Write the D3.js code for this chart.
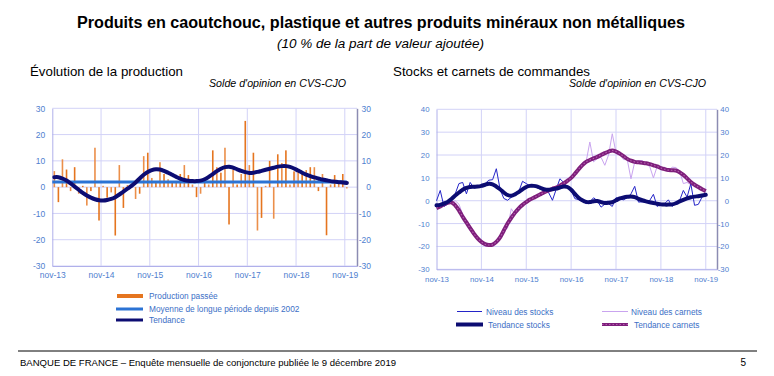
<!DOCTYPE html>
<html>
<head>
<meta charset="utf-8">
<script src="https://cdn.jsdelivr.net/npm/d3@7"></script>
<style>
body { margin: 0; background: #fff; }
svg { display: block; font-family: "Liberation Sans", Arial, sans-serif; }
</style>
</head>
<body>
<svg width="774" height="376"></svg>
<script>
// months are indexed from nov-13 (0) to nov-19 (72)
const yearTicks = [0, 12, 24, 36, 48, 60, 72];
const yearLabels = ["nov-13", "nov-14", "nov-15", "nov-16", "nov-17", "nov-18", "nov-19"];
const prodTicks = [-30, -20, -10, 0, 10, 20, 30];
const stockTicks = [-30, -20, -10, 0, 10, 20, 30, 40];

const production = [
    6.1, -5.7, 10.6, 6.7, -1.5, 7.6, -2.5, 0.5, -7, -1.5, 15, -12.7,
    0.5, -4, -2, -18.4, 8.4, -7.9, 0.8, 0.5, -4.5, -2.5, 11.8, 13.1,
    3.5, 2, 9.5, 5, 3, 2, 2, 5, 8.4, 4.6, 1, -3.8,
    -2.5, 2, 1, 14, 7.6, 5.5, 15, -14.2, 6.7, 1, 5, 25.2,
    8.4, 13.1, -16.5, -11.7, 0.5, 10, -12, 12.5, 9.2, 14, 1, 6,
    6.7, 6, 6.5, 7.6, 7.6, -1.5, 5, -18.3, 1, 4.6, 2, 5, -0.5
];
const longTermMean = 2.0;
const productionTrend = [
    3.8, 3.8, 3.3, 2.5, 1.4, 0.2, -1.0, -2.2, -3.2, -4.0, -4.6, -5.0,
    -5.1, -4.9, -4.5, -3.8, -2.8, -1.7, -0.6, 0.5, 1.8, 3.3, 4.7, 5.8,
    6.5, 6.8, 6.7, 6.2, 5.5, 4.7, 3.9, 3.2, 2.7, 2.4, 2.3, 2.3,
    2.5, 3.0, 3.9, 5.0, 6.1, 7.0, 7.6, 7.8, 7.4, 6.8, 6.2, 5.7,
    5.4, 5.5, 5.8, 6.2, 6.6, 7.0, 7.4, 7.8, 8.0, 8.0, 7.7, 7.1,
    6.3, 5.5, 4.8, 4.2, 3.7, 3.3, 2.9, 2.6, 2.3, 2.1, 1.9, 1.8, 1.6
];

const stocks = [
    0, 4.5, -2.5, -1.5, 1, 3, 7.5, 8, 3, 8, 5.5, 6,
    6.5, 7.5, 9, 9.2, 14, 5, 1, 0.2, 1.5, 3, 4, 8.5,
    7.5, 6.5, 6.7, 5.5, 5, 4.5, 3.5, 0.2, 5, 9.6, 8, 6,
    4.5, 0.9, 0.5, 0, -1.3, -0.5, 1.3, 0, -2.8, -1.5, -1.3, -2.5,
    1.3, 0.8, 0.4, 1.3, 3, 6.3, -0.6, -0.5, -0.6, 0.1, 2.8, -2.5,
    -1.5, -1.3, 0.4, -2.5, -1, 0.1, 4.5, 1.6, 7.4, -2, -1.6, 1.6, 2.8
];
const stocksTrend = [
    -2, -1.8, -1.2, -0.5, 0.8, 2.3, 3.6, 4.8, 5.6, 6, 6.1, 6.2,
    6.5, 7, 7.4, 7.2, 6.2, 5.0, 3.6, 2.5, 2.2, 2.8, 3.8, 5,
    6, 6.5, 6.5, 6.2, 5.5, 4.9, 4.8, 5.0, 5.3, 5.8, 6.2, 6.0,
    4.8, 3.0, 1.3, 0.2, -0.5, -0.6, -0.2, -0.1, -0.6, -1.0, -0.9, -0.6,
    0.2, 1.0, 1.4, 1.7, 1.9, 1.6, 0.8, 0.2, -0.3, -0.7, -1.0, -1.3,
    -1.6, -1.7, -1.7, -1.6, -1.1, -0.3, 0.4, 1.0, 1.5, 1.8, 2.0, 2.3, 2.6
];
const orders = [
    -3, -2, -1.5, 0, -1, 0, -1.5, -6, -9, -13, -15.5, -16,
    -18, -20, -19.5, -20, -18, -17, -13, -12, -3.5, -6, -3.5, -2.5,
    0, 1, 1, 2.5, 3.5, 3.5, 4, 6, 5.5, 6.5, 7, 8.5,
    10, 12, 14, 16.5, 17, 25.7, 17, 18.5, 19, 15.5, 20, 29.3,
    21, 20.5, 18, 18, 9.6, 17, 17.5, 17.6, 16, 15, 10, 15,
    14, 14.7, 13, 14.7, 14.5, 13, 7.5, 8, 7, 6.5, 5.5, 5, 4.5
];
const ordersTrend = [
    -3.2, -2.5, -1.5, -0.9, -0.7, -2, -4.2, -7, -9.5, -12, -14.4, -16.5,
    -18, -19, -19.4, -19.2, -18, -16, -13, -10, -7.5, -5.2, -3.3, -1.8,
    -0.6, 0.5, 1.3, 2.2, 3, 3.8, 4.5, 5.2, 5.8, 6.6, 7.6, 8.7,
    10, 11.8, 13.8, 15.6, 17, 17.8, 18.5, 19.2, 20, 20.8, 21.5, 22,
    21.5, 20.6, 19.5, 18.3, 17.5, 17, 16.8, 16.6, 16.4, 16, 15.5, 15,
    14.3, 13.8, 13.4, 13.3, 13.2, 12.5, 11.3, 9.8, 8.2, 7, 6, 5, 4.2
];

const navy = "#0c0c72";
const tickColor = "#4f80cf";
const svg = d3.select("svg");

function addText(x, y, str, size, opts) {
    const t = svg.append("text")
        .attr("x", x).attr("y", y)
        .attr("font-size", size)
        .attr("fill", opts.fill || "#000")
        .text(str);
    if (opts.bold) t.attr("font-weight", "bold");
    if (opts.italic) t.attr("font-style", "italic");
    if (opts.anchor) t.attr("text-anchor", opts.anchor);
    if (opts.len) t.attr("textLength", opts.len).attr("lengthAdjust", "spacingAndGlyphs");
    return t;
}

// titles
addText(77, 28, "Produits en caoutchouc, plastique et autres produits minéraux non métalliques", 16, {bold: true, len: 608});
addText(277, 48, "(10 % de la part de valeur ajoutée)", 12.5, {italic: true, len: 207});
addText(30, 76, "Évolution de la production", 13, {len: 153});
addText(209, 87, "Solde d'opinion en CVS-CJO", 10, {italic: true, len: 137});
addText(393, 76, "Stocks et carnets de commandes", 13, {len: 197});
addText(569, 87, "Solde d'opinion en CVS-CJO", 10, {italic: true, len: 137});

function drawFrame(x, y, yTicks, o) {
    const [x0, x1] = x.range();
    const [yb, yt] = y.range();
    const g = svg.append("g");
    g.selectAll(null).data(yTicks).enter().append("line")
        .attr("x1", x0).attr("x2", x1)
        .attr("y1", d => y(d)).attr("y2", d => y(d))
        .attr("stroke", "#d2d2f7");
    g.selectAll(null).data(yearTicks.slice(1)).enter().append("line")
        .attr("x1", d => x(d)).attr("x2", d => x(d))
        .attr("y1", yb).attr("y2", yt)
        .attr("stroke", "#d2d2f7");

    const left = g.append("g").attr("transform", `translate(${x0},0)`)
        .call(d3.axisLeft(y).tickValues(yTicks).tickFormat(d => d).tickSize(0).tickPadding(o.padL));
    const right = g.append("g").attr("transform", `translate(${x1},0)`)
        .call(d3.axisRight(y).tickValues(yTicks).tickFormat(d => d).tickSize(0));
    right.selectAll("text").attr("x", o.padR).attr("text-anchor", "end");
    const bottom = g.append("g").attr("transform", `translate(0,${yb})`)
        .call(d3.axisBottom(x).tickValues(yearTicks).tickFormat((d, i) => yearLabels[i]).tickSize(0).tickPadding(o.padB));

    [left, right, bottom].forEach(a => {
        a.attr("font-family", null).attr("font-size", o.fs);
        a.selectAll("text").attr("fill", tickColor);
        a.select(".domain").attr("stroke", "#b0b0ea");
    });
    right.select(".domain").attr("stroke", "#8c8cb2").attr("stroke-width", 1.5);
}

// ---- left panel: production
const xL = d3.scaleLinear().domain([0, 75]).range([52.3, 357]);
const yL = d3.scaleLinear().domain([-30, 30]).range([266, 108.3]);
drawFrame(xL, yL, prodTicks, {padL: 7, padR: 14, padB: 6, fs: 8.5});

svg.append("g").selectAll("rect")
    .data(production)
    .enter()
    .append("rect")
    .attr("x", (d, i) => xL(i + 0.5) - 0.8)
    .attr("width", 1.6)
    .attr("y", d => yL(Math.max(0, d)))
    .attr("height", d => Math.abs(yL(d) - yL(0)))
    .attr("fill", (d, i) => i % 2 ? "#e5751f" : "#eb8f4a");

svg.append("line")
    .attr("x1", xL(0)).attr("x2", xL(72.5))
    .attr("y1", yL(longTermMean)).attr("y2", yL(longTermMean))
    .attr("stroke", "#2b73d4").attr("stroke-width", 3);

svg.append("path")
    .datum(productionTrend)
    .attr("d", d3.line().x((d, i) => xL(i + 0.5)).y(d => yL(d)).curve(d3.curveCatmullRom))
    .attr("fill", "none").attr("stroke", navy).attr("stroke-width", 4)
    .attr("stroke-linecap", "round");

// ---- right panel: stocks and orders
const xR = d3.scaleLinear().domain([0, 75]).range([436.5, 717]);
const yR = d3.scaleLinear().domain([-30, 40]).range([269.3, 109.3]);
drawFrame(xR, yR, stockTicks, {padL: 7, padR: 12, padB: 7, fs: 7.8});

const lineR = d3.line().x((d, i) => xR(i)).y(d => yR(d));
const lineRSmooth = d3.line().x((d, i) => xR(i)).y(d => yR(d)).curve(d3.curveCatmullRom);

svg.append("path").datum(orders).attr("d", lineR)
    .attr("fill", "none").attr("stroke", "#c9a4ef").attr("stroke-width", 1);
svg.append("path").datum(stocks).attr("d", lineR)
    .attr("fill", "none").attr("stroke", "#2424c8").attr("stroke-width", 1);
svg.append("path").datum(ordersTrend).attr("d", lineRSmooth)
    .attr("fill", "none").attr("stroke", "#7e1f7c").attr("stroke-width", 4);
svg.append("path").datum(ordersTrend).attr("d", lineRSmooth)
    .attr("fill", "none").attr("stroke", "#b45eae").attr("stroke-width", 1.1)
    .attr("stroke-dasharray", "1.5,2");
svg.append("path").datum(stocksTrend).attr("d", lineRSmooth)
    .attr("fill", "none").attr("stroke", navy).attr("stroke-width", 4)
    .attr("stroke-linecap", "round");

// ---- legends
const legendText = "#3c6fc6";
function legendItem(x1, x2, y, label, tx, stroke, width, dash) {
    svg.append("line").attr("x1", x1).attr("x2", x2).attr("y1", y).attr("y2", y)
        .attr("stroke", stroke).attr("stroke-width", width);
    if (dash) {
        svg.append("line").attr("x1", x1).attr("x2", x2).attr("y1", y).attr("y2", y)
            .attr("stroke", dash).attr("stroke-width", 1.1).attr("stroke-dasharray", "1.5,2");
    }
    addText(tx, y + 3, label, 8.3, {fill: legendText});
}
legendItem(117, 143, 296, "Production passée", 149, "#e5751f", 4);
legendItem(116, 143, 309, "Moyenne de longue période depuis 2002", 149, "#2b73d4", 3);
legendItem(116, 143, 320, "Tendance", 149, navy, 3);

legendItem(457, 482, 311.5, "Niveau des stocks", 486, "#2424c8", 1);
legendItem(456, 483, 324.5, "Tendance stocks", 488, navy, 4);
legendItem(602, 628, 311.5, "Niveau des carnets", 631, "#c9a4ef", 1);
legendItem(602, 628, 324.5, "Tendance carnets", 634, "#7e1f7c", 3, "#b45eae");

// ---- footer
svg.append("line").attr("x1", 18).attr("x2", 757).attr("y1", 351).attr("y2", 351)
    .attr("stroke", "#000").attr("stroke-width", 1);
addText(20, 366, "BANQUE DE FRANCE –   Enquête mensuelle de conjoncture publiée le 9 décembre 2019", 9.5, {len: 376});
addText(746, 366, "5", 10, {anchor: "end"});
</script>
</body>
</html>
